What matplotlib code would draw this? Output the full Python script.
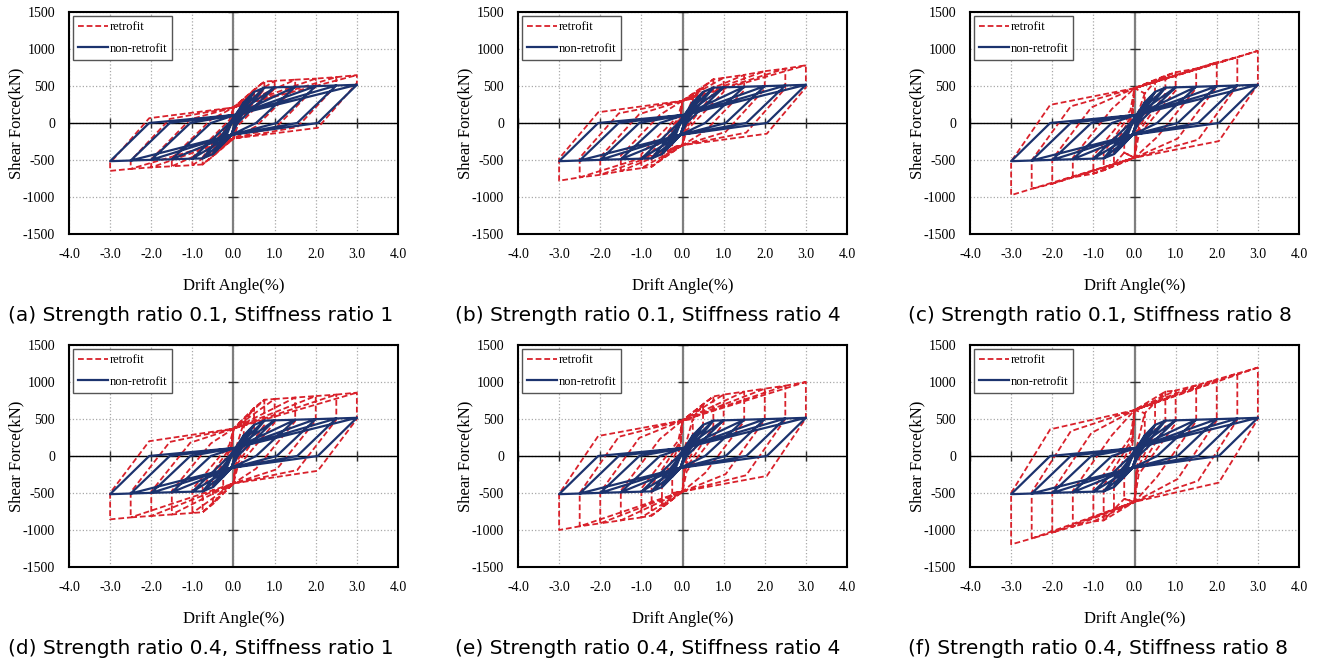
import matplotlib
matplotlib.use("Agg")
import matplotlib.pyplot as plt

# drift amplitudes of the loading cycles (%)
AMP = [0.25, 0.5, 0.75, 1.0, 1.5, 2.0, 2.5, 3.0]

# non-retrofit frame (same in every panel)
BLUE_PEAK = [280, 420, 478, 482, 490, 498, 507, 516]
BLUE_ZERO = [0.05, 0.05, 0.05, 0.1, 0.55, 1.05, 1.55, 2.05]
BLUE_PINCH_POS = (0.05, 110)
BLUE_PINCH_NEG = (-0.05, -160)

# retrofit frame, one row per panel (a)..(f)
RED_PEAK = [
    [300, 450, 560, 570, 585, 600, 620, 647],
    [330, 480, 590, 610, 650, 700, 735, 780],
    [400, 560, 640, 685, 735, 820, 890, 975],
    [450, 650, 760, 770, 790, 810, 830, 856],
    [500, 700, 805, 830, 870, 910, 950, 1000],
    [580, 720, 870, 885, 955, 1035, 1115, 1195],
]
RED_DROP = [
    [220, 350, 460, 465, 478, 490, 510, 540],
    [200, 330, 400, 420, 440, 460, 470, 480],
    [200, 330, 400, 440, 470, 490, 505, 520],
    [200, 330, 420, 450, 470, 480, 490, 500],
    [200, 330, 400, 440, 470, 490, 500, 510],
    [200, 330, 400, 440, 470, 480, 490, 500],
]
RED_KNEE = [
    [-20, -30, -40, -40, -45, -50, -55, -65],
    [-60, -80, -100, -100, -110, -120, -130, -145],
    [-100, -130, -160, -170, -190, -210, -225, -245],
    [-80, -110, -140, -150, -170, -180, -190, -200],
    [-120, -160, -200, -210, -230, -245, -260, -270],
    [-150, -200, -240, -250, -280, -310, -335, -360],
]
RED_PINCH = [210, 300, 470, 370, 480, 620]

CAPTIONS = [
    "(a) Strength ratio 0.1, Stiffness ratio 1",
    "(b) Strength ratio 0.1, Stiffness ratio 4",
    "(c) Strength ratio 0.1, Stiffness ratio 8",
    "(d) Strength ratio 0.4, Stiffness ratio 1",
    "(e) Strength ratio 0.4, Stiffness ratio 4",
    "(f) Strength ratio 0.4, Stiffness ratio 8",
]

XTICKS = [-4, -3, -2, -1, 0, 1, 2, 3, 4]
YTICKS = [-1500, -1000, -500, 0, 500, 1000, 1500]

RED = "#d9212b"
BLUE = "#1c336e"


def loop_path(amp, peak, drop, knee_x, knee_y, pin_pos, pin_neg):
    # walk the cycles: peak -> drop -> knee -> pinch -> opposite peak ...
    xs, ys = [0.0], [0.0]
    for i, a in enumerate(amp):
        if i > 0:
            xs.append(amp[i - 1]); ys.append(peak[i - 1])
        xs += [a, a, knee_x[i], pin_neg[0]]
        ys += [peak[i], drop[i], knee_y[i], pin_neg[1]]
        if i > 0:
            xs.append(-amp[i - 1]); ys.append(-peak[i - 1])
        xs += [-a, -a, -knee_x[i], pin_pos[0]]
        ys += [-peak[i], -drop[i], -knee_y[i], pin_pos[1]]
    xs.append(amp[-1]); ys.append(peak[-1])
    return xs, ys


fig = plt.figure(figsize=(13.21, 6.64), dpi=100)
serif = "Liberation Serif"

lefts = [69, 518, 970]
tops = [12, 345]
cap_x = [8, 455, 908]
cap_y = [316, 648]

bx, by = loop_path(AMP, BLUE_PEAK, BLUE_PEAK, BLUE_ZERO, [0] * len(AMP),
                   BLUE_PINCH_POS, BLUE_PINCH_NEG)

for k in range(6):
    r, c = divmod(k, 3)
    ax = fig.add_axes([lefts[c] / 1321, 1 - (tops[r] + 222) / 664, 329 / 1321, 222 / 664])

    rx, ry = loop_path(AMP, RED_PEAK[k], RED_DROP[k], BLUE_ZERO, RED_KNEE[k],
                       (0.0, RED_PINCH[k]), (0.0, -RED_PINCH[k]))
    ax.plot(rx, ry, color=RED, lw=1.3, ls=(0, (3.2, 1.6)), label="retrofit", zorder=3)
    ax.plot(bx, by, color=BLUE, lw=1.6, label="non-retrofit", zorder=4)

    ax.set_xlim(-4, 4)
    ax.set_ylim(-1500, 1500)
    ax.set_xticks(XTICKS)
    ax.set_yticks(YTICKS)
    ax.set_xticklabels(["%.1f" % v for v in XTICKS], fontfamily=serif, fontsize=10)
    ax.set_yticklabels([str(v) for v in YTICKS], fontfamily=serif, fontsize=10)
    ax.tick_params(length=0, pad=10)
    ax.grid(True, color="#a8a8a8", ls=":", lw=0.9)
    ax.axvline(0, color="#7f7f7f", lw=1.6, zorder=2)
    ax.axhline(0, color="black", lw=1.0, zorder=2)
    # small cross ticks on the zero lines
    ax.plot(XTICKS, [0] * len(XTICKS), ls="none", marker="|", ms=7, mew=1.0, color="#333333", zorder=2)
    ax.plot([0] * len(YTICKS), YTICKS, ls="none", marker="_", ms=7, mew=1.0, color="#333333", zorder=2)
    for s in ax.spines.values():
        s.set_linewidth(1.5)
        s.set_color("black")

    ax.set_xlabel("Drift Angle(%)", fontfamily=serif, fontsize=12, labelpad=12)
    ax.set_ylabel("Shear Force(kN)", fontfamily=serif, fontsize=12, labelpad=-1)

    leg = ax.legend(loc="upper left", prop={"family": serif, "size": 9},
                    fancybox=False, edgecolor="#555555", framealpha=1,
                    handlelength=2.4, handletextpad=0.1, borderaxespad=0.35,
                    borderpad=0.4, labelspacing=0.75)
    leg.get_frame().set_linewidth(1.0)

    fig.text(cap_x[c] / 1321, 1 - cap_y[r] / 664, CAPTIONS[k],
             fontfamily="DejaVu Sans", fontsize=14.5, va="center", ha="left")

fig.savefig("out.png", dpi=100)
